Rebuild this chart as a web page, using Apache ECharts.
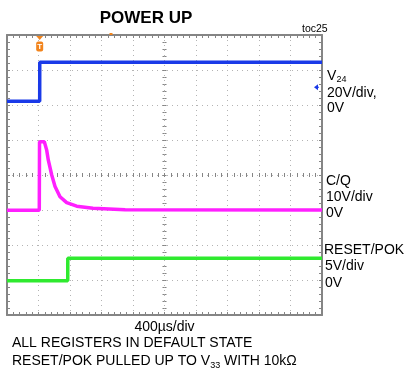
<!DOCTYPE html>
<html><head><meta charset="utf-8">
<script src="https://cdn.jsdelivr.net/npm/echarts@6/dist/echarts.min.js"></script>
<style>html,body{margin:0;padding:0;background:#fff}#c{width:410px;height:374px}</style>
</head><body><div id="c"></div>
<script>
// Time axis (µs), 400 µs/div, 10 divisions
const xMinUs = 0, xMaxUs = 4000, xDivUs = 400;
// Vertical scale in screen divisions (8 divisions)
const yMinDiv = 0, yMaxDiv = 8;

// Channel 1: V24 (blue)
const v24TimeUs = [0, 415, 416, 4000];
const v24Div    = [6.11, 6.11, 7.22, 7.22];
// Channel 2: C/Q (magenta)
const cqTimeUs = [0, 410, 413, 474, 504, 524, 568, 610, 673, 758, 885, 1092, 1500, 4000];
const cqDiv    = [2.99, 2.99, 4.95, 4.95, 4.71, 4.43, 4.00, 3.67, 3.38, 3.21, 3.11, 3.05, 3.01, 3.00];
// Channel 3: RESET/POK (green)
const pokTimeUs = [0, 771, 772, 4000];
const pokDiv    = [0.98, 0.98, 1.62, 1.62];

const triggerUs = 415;
const v24ZeroDiv = 6.51;

const FONT = '"Liberation Sans", Arial, sans-serif';
const frame = '#858585';
const dots = '#b4b4b4';

function zip(a, b) { return a.map((v, i) => [v, b[i]]); }

function xAx(pos, offset, isFrame) {
  return {
    type: 'value', min: xMinUs, max: xMaxUs, interval: xDivUs, position: pos, offset: offset,
    axisLine: { show: isFrame, onZero: false, lineStyle: { color: frame, width: 2 } },
    axisTick: { show: true, inside: true, length: isFrame ? 3 : 2, lineStyle: { color: frame } },
    minorTick: { show: true, splitNumber: 5, length: isFrame ? 3 : 2, lineStyle: { color: frame } },
    axisLabel: { show: false },
    splitLine: { show: isFrame && pos === 'bottom', lineStyle: { color: dots, type: [1, 4] } },
    minorSplitLine: { show: false }
  };
}
function yAx(pos, offset, isFrame) {
  return {
    type: 'value', min: yMinDiv, max: yMaxDiv, interval: 1, position: pos, offset: offset,
    axisLine: { show: isFrame, onZero: false, lineStyle: { color: frame, width: 2 } },
    axisTick: { show: true, inside: true, length: isFrame ? 3 : 2, lineStyle: { color: frame } },
    minorTick: { show: true, splitNumber: 5, length: isFrame ? 3 : 2, lineStyle: { color: frame } },
    axisLabel: { show: false },
    splitLine: { show: isFrame && pos === 'left', lineStyle: { color: dots, type: [1, 4] } },
    minorSplitLine: { show: false }
  };
}

const chart = echarts.init(document.getElementById('c'), null, { renderer: 'canvas' });
const gridW = 315, gridH = 280;
const option = {
  animation: false,
  backgroundColor: '#fff',
  grid: { left: 7, top: 35, width: gridW, height: gridH, containLabel: false },
  xAxis: [xAx('bottom', 0, true), xAx('top', 0, true), xAx('bottom', -gridH / 2, false), xAx('top', -gridH / 2, false)],
  yAxis: [yAx('left', 0, true), yAx('right', 0, true), yAx('left', -gridW / 2, false), yAx('right', -gridW / 2, false)],
  series: [
    { type: 'line', xAxisIndex: 0, yAxisIndex: 0, data: zip(v24TimeUs, v24Div), showSymbol: false,
      lineStyle: { color: '#1a3ae8', width: 3.5 }, z: 5 },
    { type: 'line', xAxisIndex: 0, yAxisIndex: 0, data: zip(cqTimeUs, cqDiv), showSymbol: false,
      lineStyle: { color: '#ff1fff', width: 3.5 }, z: 5 },
    { type: 'line', xAxisIndex: 0, yAxisIndex: 0, data: zip(pokTimeUs, pokDiv), showSymbol: false,
      lineStyle: { color: '#2fea2f', width: 3.5 }, z: 5 }
  ]
};
chart.setOption(option);

const trig = chart.convertToPixel({ xAxisIndex: 0, yAxisIndex: 0 }, [triggerUs, yMaxDiv]);
const ref1 = chart.convertToPixel({ xAxisIndex: 0, yAxisIndex: 0 }, [xMaxUs, v24ZeroDiv]);
const orange = '#f2841c';
const txt = (x, y, text, size, extra) => Object.assign({ type: 'text', x: x, y: y, z: 20,
  style: Object.assign({ text: text, font: size + 'px ' + FONT, fill: '#000', verticalAlign: 'middle' }, extra || {}) });

chart.setOption({
  graphic: [
    txt(146, 18, 'POWER UP', 17, { font: 'bold 17px ' + FONT, align: 'center' }),
    txt(302, 29, 'toc25', 10.5, {}),
    // trigger marker
    { type: 'polygon', z: 20, shape: { points: [[trig[0] - 3.5, trig[1] + 1], [trig[0] + 3.5, trig[1] + 1], [trig[0], trig[1] + 5]] }, style: { fill: orange } },
    { type: 'rect', z: 20, shape: { x: trig[0] - 3.5, y: trig[1] + 6.5, width: 7, height: 10, r: 2 }, style: { fill: orange } },
    txt(trig[0], trig[1] + 11.8, 'T', 8, { font: 'bold 8px ' + FONT, fill: '#fff', align: 'center' }),
    { type: 'rect', z: 20, shape: { x: 109.5, y: trig[1] - 2, width: 3, height: 2 }, style: { fill: orange } },
    // channel 1 reference arrow
    { type: 'polygon', z: 20, shape: { points: [[ref1[0] - 8, ref1[1]], [ref1[0] - 4, ref1[1] - 3], [ref1[0] - 4, ref1[1] + 3]] }, style: { fill: '#1a3ae8' } },
    { type: 'rect', z: 20, shape: { x: ref1[0] - 5, y: ref1[1] - 0.5, width: 2, height: 1 }, style: { fill: '#1a3ae8' } },
    // right labels
    txt(327, 76, 'V', 14, {}),
    txt(336.5, 80, '24', 9, {}),
    txt(327, 93, '20V/div,', 14, {}),
    txt(327, 108, '0V', 14, {}),
    txt(326, 181, 'C/Q', 14, {}),
    txt(326, 197, '10V/div', 14, {}),
    txt(326, 213, '0V', 14, {}),
    txt(324, 250, 'RESET/POK', 14, {}),
    txt(325, 266, '5V/div', 14, {}),
    txt(325, 283, '0V', 14, {}),
    // bottom texts
    txt(164.5, 327, '400µs/div', 14, { align: 'center' }),
    txt(12, 343, 'ALL REGISTERS IN DEFAULT STATE', 14, {}),
    { type: 'text', x: 12, y: 352, z: 20, style: {
        text: '{a|RESET/POK PULLED UP TO V}{s|33}{a| WITH 10kΩ}',
        rich: { a: { font: '14px ' + FONT, fill: '#000', lineHeight: 16, verticalAlign: 'bottom' },
                s: { font: '9px ' + FONT, fill: '#000', lineHeight: 9, verticalAlign: 'bottom', padding: [0, 0, -2, 0] } } } }
  ]
});
</script></body></html>
